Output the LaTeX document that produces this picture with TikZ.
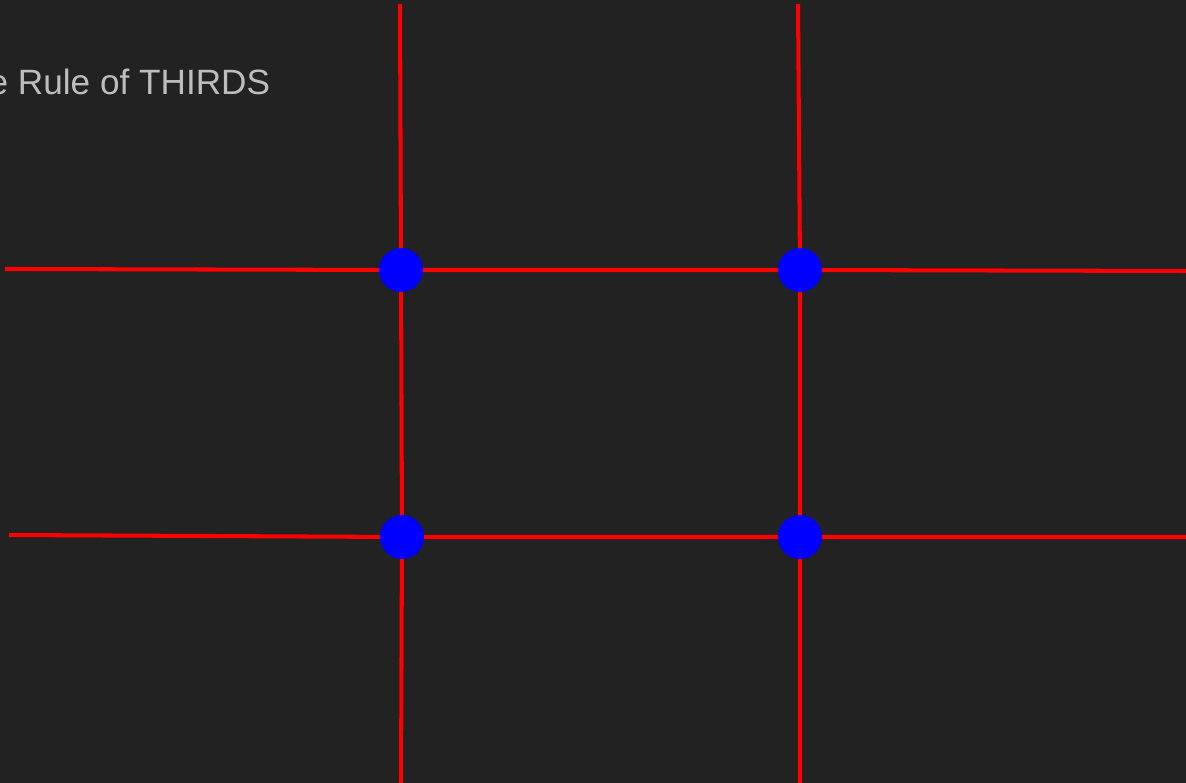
\documentclass[tikz,border=0pt]{standalone}
\usepackage{fontspec}
\setmainfont{Liberation Sans}
\usetikzlibrary{positioning,backgrounds}
\definecolor{bgdark}{HTML}{222222}
\definecolor{gridred}{HTML}{FF0000}
\definecolor{dotblue}{HTML}{0000FF}
\definecolor{titlegray}{HTML}{BDBDBD}

\begin{document}
\begin{tikzpicture}[
      x=0.01cm, y=-0.01cm, % one unit per pixel
      gridline/.style={draw=gridred, line width=1.15pt},
      hotspot/.style={circle, fill=dotblue, inner sep=0pt, minimum size=0.44cm},
      title/.style={text=titlegray, font=\fontsize{10}{12}\selectfont, anchor=base west, inner sep=0pt}
    ]
\useasboundingbox (0,0) rectangle (1186,783);
    % the four crossing points
    \node[hotspot] (tl) at (401,270) {};
    \node[hotspot] (tr) at (800,270) {};
    \node[hotspot] (bl) at (402,537) {};
    \node[hotspot] (br) at (800,537) {};
    % free ends of the grid lines
    \coordinate (lefttop) at (400,4);
    \coordinate (leftbot) at (401,783);
    \coordinate (righttop) at (798,4);
    \coordinate (rightbot) at (800,783);
    \coordinate (upleft) at (5,269);
    \coordinate (upright) at (1186,271);
    \coordinate (lowleft) at (9,535);
    \coordinate (lowright) at (1186,537);
    \node[title] (heading) at (-12,95) {e Rule of THIRDS};
\begin{scope}[on background layer]
    \fill[bgdark] (0,0) rectangle (1186,783);
    \draw[gridline] (lefttop) -- (tl.center) -- (bl.center) -- (leftbot);
    \draw[gridline] (righttop) -- (tr.center) -- (br.center) -- (rightbot);
    \draw[gridline] (upleft) -- (tl.center) -- (tr.center) -- (upright);
    \draw[gridline] (lowleft) -- (bl.center) -- (br.center) -- (lowright);
\end{scope}
  \end{tikzpicture}
\end{document}
